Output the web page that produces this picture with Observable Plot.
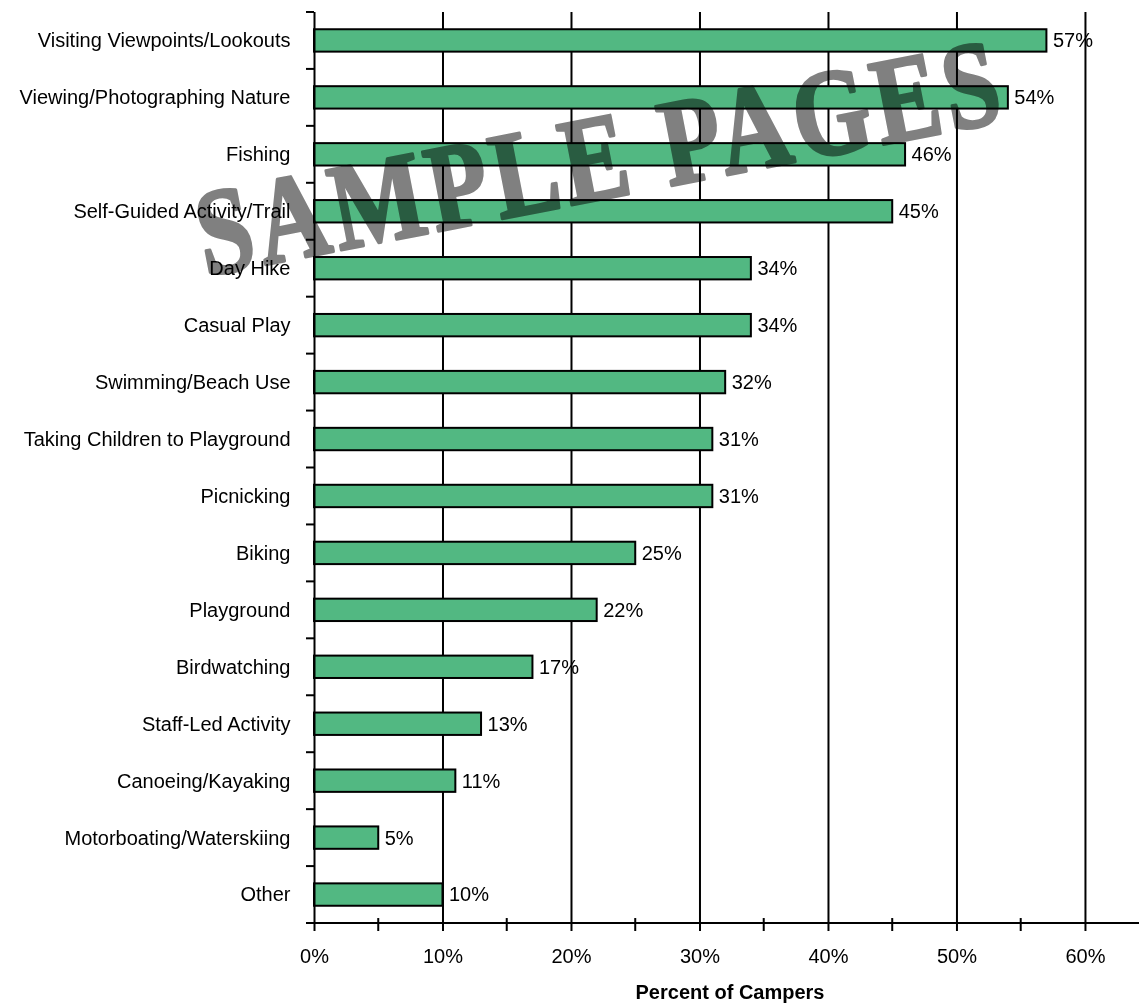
<!DOCTYPE html>
<html><head><meta charset="utf-8">
<script src="https://cdn.jsdelivr.net/npm/d3@7"></script>
<script src="https://cdn.jsdelivr.net/npm/@observablehq/plot@0.6"></script>
<style>body{margin:0;background:#fff}</style>
</head><body><div id="chart"></div>
<script>
const categories = [
  "Visiting Viewpoints/Lookouts",
  "Viewing/Photographing Nature",
  "Fishing",
  "Self-Guided Activity/Trail",
  "Day Hike",
  "Casual Play",
  "Swimming/Beach Use",
  "Taking Children to Playground",
  "Picnicking",
  "Biking",
  "Playground",
  "Birdwatching",
  "Staff-Led Activity",
  "Canoeing/Kayaking",
  "Motorboating/Waterskiing",
  "Other"
];
const values = [57, 54, 46, 45, 34, 34, 32, 31, 31, 25, 22, 17, 13, 11, 5, 10];
const majorTicks = [0, 10, 20, 30, 40, 50, 60];
const minorTicks = [5, 15, 25, 35, 45, 55];
const xLabel = "Percent of Campers";
const watermark = "SAMPLE PAGES";

const data = categories.map((c, i) => ({category: c, value: values[i]}));

// custom decorations drawn from the library's scales: band boundary ticks, minor ticks, x axis line
function axisDecorations(index, scales, channels, dimensions) {
  const y = scales.y, x = scales.x;
  const ys = categories.map(c => y(c));
  const step = ys[1] - ys[0];
  let bw;
  if (y.scale && typeof y.scale.bandwidth === "function") bw = y.scale.bandwidth();
  else if (typeof y.bandwidth === "function") bw = y.bandwidth();
  else if (typeof y.bandwidth === "number") bw = y.bandwidth;
  else bw = step * 0.393;
  const off = (step - bw) / 2;
  const bounds = ys.map(v => v - off).concat([ys[ys.length - 1] + bw + off]);
  const x0 = x(0);
  const bottom = bounds[bounds.length - 1];
  const g = d3.create("svg:g").attr("stroke", "black").attr("stroke-width", 2);
  g.selectAll("line.b").data(bounds).join("line").attr("class", "b")
    .attr("x1", x0 - 8).attr("x2", x0).attr("y1", d => d).attr("y2", d => d);
  g.append("line").attr("x1", x0 - 8).attr("x2", dimensions.width).attr("y1", bottom).attr("y2", bottom);
  g.selectAll("line.m").data(minorTicks).join("line").attr("class", "m")
    .attr("x1", d => x(d)).attr("x2", d => x(d)).attr("y1", bottom - 5).attr("y2", bottom + 8);
  return g.node();
}

const plot = Plot.plot({
  width: 1139,
  height: 1003,
  marginLeft: 314,
  marginRight: 2,
  marginTop: 12,
  marginBottom: 80,
  style: {fontFamily: "'Liberation Sans', Arial, sans-serif", fontSize: "20px", color: "black", background: "white", overflow: "visible"},
  x: {domain: [0, 64.05], label: null},
  y: {domain: categories, paddingInner: 0.607, paddingOuter: 0.303, round: false, label: null},
  marks: [
    Plot.ruleX(majorTicks.filter(d => d > 0), {stroke: "black", strokeWidth: 2}),
    Plot.barX(data, {x: "value", y: "category", fill: "#52b882", stroke: "black", strokeWidth: 2}),
    Plot.text(data, {x: "value", y: "category", text: d => d.value + "%", textAnchor: "start", dx: 6, fontSize: 20, fill: "black"}),
    Plot.ruleX([0], {stroke: "black", strokeWidth: 2}),
    axisDecorations,
    Plot.axisY({tickSize: 0, tickPadding: 24, fontSize: 20, label: null}),
    Plot.axisX(majorTicks, {tickFormat: d => d + "%", tickSize: 8, tickPadding: 17, fontSize: 20, label: null, strokeWidth: 2}),
    Plot.text([xLabel], {frameAnchor: "bottom", dx: 4, dy: 75, fontWeight: "bold", fontSize: 20, fill: "black"})
  ]
});

d3.select(plot).append("text")
  .attr("transform", "translate(608,198) rotate(-11) scale(0.88,1.1)")
  .attr("text-anchor", "middle")
  .attr("font-family", "'Liberation Serif', 'Times New Roman', serif")
  .attr("font-weight", "bold")
  .attr("font-size", 112)
  .attr("letter-spacing", 6)
  .attr("fill", "#808080")
  .attr("stroke", "#808080")
  .attr("stroke-width", 3)
  .attr("stroke-linejoin", "round")
  .style("mix-blend-mode", "multiply")
  .text(watermark);

document.getElementById("chart").append(plot);
</script>
</body></html>
